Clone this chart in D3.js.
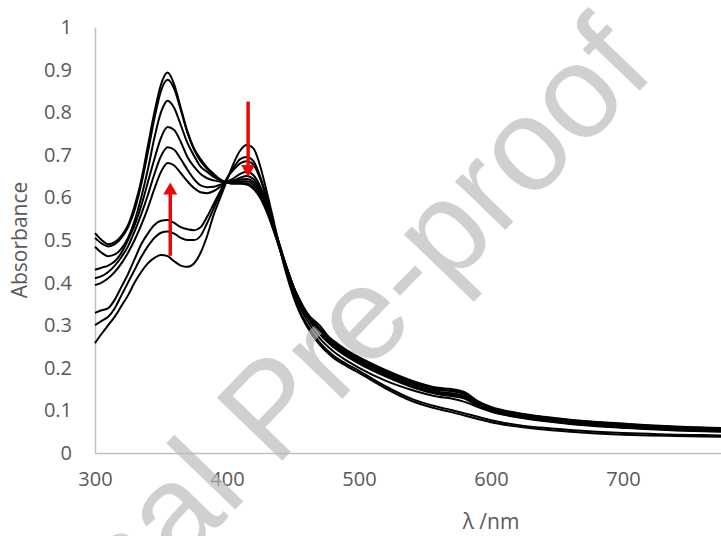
<!DOCTYPE html>
<html><head><meta charset="utf-8">
<script src="https://cdn.jsdelivr.net/npm/d3@7"></script>
<style>html,body{margin:0;padding:0;background:#fff;}svg{display:block;}</style>
</head><body>
<svg id="chart" width="721" height="536"></svg>
<script>
// wavelength grid (nm)
const wavelengths = [300,305,310,315,320,325,330,335,340,345,350,355,360,365,370,375,380,385,390,395,400,405,410,415,420,425,430,435,440,445,450,455,460,470,480,490,500,520,540,560,570,580,590,600,620,640,660,680,700,720,740,760,780,800];
// absorbance spectra (initial -> final)
const spectrum1 = [0.258,0.28,0.30,0.32,0.345,0.37,0.40,0.425,0.445,0.458,0.465,0.462,0.45,0.44,0.437,0.445,0.47,0.51,0.56,0.60,0.64,0.68,0.71,0.723,0.715,0.675,0.615,0.55,0.48,0.42,0.37,0.33,0.30,0.255,0.225,0.205,0.188,0.152,0.122,0.103,0.096,0.088,0.08,0.072,0.062,0.055,0.05,0.046,0.043,0.041,0.04,0.039,0.038,0.037];
const spectrum2 = [0.30,0.31,0.32,0.34,0.37,0.40,0.43,0.46,0.485,0.505,0.517,0.52,0.515,0.505,0.50,0.50,0.51,0.54,0.575,0.61,0.645,0.67,0.69,0.695,0.685,0.65,0.60,0.54,0.48,0.425,0.375,0.335,0.305,0.26,0.23,0.21,0.193,0.157,0.127,0.108,0.101,0.093,0.085,0.077,0.066,0.059,0.054,0.05,0.047,0.045,0.043,0.042,0.041,0.04];
const spectrum3 = [0.329,0.335,0.34,0.36,0.39,0.42,0.455,0.49,0.515,0.535,0.545,0.547,0.54,0.53,0.525,0.523,0.53,0.555,0.585,0.615,0.645,0.665,0.68,0.685,0.677,0.645,0.597,0.54,0.483,0.43,0.382,0.345,0.315,0.27,0.24,0.218,0.20,0.17,0.148,0.132,0.128,0.12,0.108,0.098,0.085,0.076,0.069,0.064,0.06,0.057,0.054,0.052,0.05,0.049];
const spectrum4 = [0.394,0.40,0.41,0.425,0.445,0.47,0.50,0.535,0.575,0.62,0.66,0.681,0.675,0.657,0.638,0.622,0.612,0.61,0.615,0.625,0.636,0.645,0.655,0.66,0.652,0.627,0.588,0.54,0.488,0.438,0.393,0.354,0.324,0.28,0.25,0.228,0.21,0.18,0.155,0.138,0.134,0.128,0.11,0.097,0.084,0.075,0.068,0.063,0.059,0.056,0.053,0.051,0.05,0.049];
const spectrum5 = [0.41,0.415,0.425,0.44,0.46,0.485,0.52,0.56,0.605,0.655,0.697,0.718,0.712,0.69,0.665,0.643,0.628,0.624,0.625,0.63,0.636,0.64,0.646,0.65,0.643,0.62,0.583,0.536,0.486,0.437,0.393,0.355,0.326,0.283,0.253,0.231,0.213,0.183,0.158,0.141,0.137,0.131,0.113,0.10,0.086,0.077,0.07,0.065,0.061,0.058,0.055,0.053,0.051,0.05];
const spectrum6 = [0.43,0.435,0.44,0.45,0.47,0.50,0.535,0.58,0.635,0.69,0.74,0.765,0.758,0.73,0.695,0.672,0.655,0.645,0.64,0.637,0.636,0.638,0.642,0.643,0.636,0.614,0.578,0.533,0.484,0.436,0.393,0.356,0.328,0.286,0.256,0.234,0.216,0.186,0.161,0.144,0.14,0.134,0.115,0.102,0.088,0.079,0.072,0.067,0.063,0.06,0.057,0.055,0.053,0.052];
const spectrum7 = [0.484,0.47,0.462,0.466,0.48,0.505,0.545,0.60,0.665,0.74,0.80,0.827,0.81,0.77,0.728,0.698,0.672,0.66,0.648,0.64,0.636,0.636,0.638,0.638,0.63,0.608,0.573,0.53,0.482,0.435,0.393,0.358,0.33,0.29,0.26,0.238,0.22,0.19,0.165,0.148,0.145,0.138,0.118,0.105,0.091,0.082,0.075,0.07,0.066,0.062,0.059,0.057,0.055,0.054];
const spectrum8 = [0.505,0.492,0.485,0.49,0.505,0.53,0.57,0.63,0.705,0.785,0.85,0.876,0.855,0.805,0.752,0.712,0.685,0.667,0.652,0.641,0.635,0.633,0.634,0.633,0.624,0.604,0.57,0.527,0.48,0.434,0.392,0.36,0.332,0.293,0.265,0.243,0.225,0.195,0.17,0.153,0.15,0.143,0.122,0.108,0.094,0.085,0.078,0.073,0.069,0.065,0.062,0.06,0.058,0.057];
const spectrum9 = [0.516,0.50,0.49,0.495,0.51,0.535,0.58,0.64,0.72,0.80,0.865,0.893,0.865,0.81,0.755,0.715,0.69,0.67,0.655,0.642,0.635,0.632,0.632,0.63,0.62,0.60,0.567,0.525,0.478,0.432,0.39,0.358,0.33,0.30,0.262,0.24,0.222,0.192,0.168,0.15,0.146,0.14,0.12,0.107,0.093,0.084,0.077,0.072,0.068,0.064,0.061,0.059,0.057,0.056];
const spectra = [spectrum1,spectrum2,spectrum3,spectrum4,spectrum5,spectrum6,spectrum7,spectrum8,spectrum9];
// axis ticks
const xTicks = [300,400,500,600,700];
const yTicks = [0,0.1,0.2,0.3,0.4,0.5,0.6,0.7,0.8,0.9,1];
// red arrows: [wavelength, from absorbance, to absorbance]
const arrowUp = [357, 0.463, 0.635];
const arrowDown = [416, 0.825, 0.648];

const svg = d3.select("#chart");
const x = d3.scaleLinear().domain([300,800]).range([95,755]);
const y = d3.scaleLinear().domain([0,1]).range([453,27]);
const tickFont = "'Open Sans', sans-serif";

// axes
const yAxis = svg.append("g").attr("transform","translate(95,0)")
  .call(d3.axisLeft(y).tickValues(yTicks).tickSize(0).tickPadding(23).tickFormat(d => d===0||d===1 ? String(d) : d3.format(".1f")(d)));
const xAxis = svg.append("g").attr("transform","translate(0,453)")
  .call(d3.axisBottom(x).tickValues(xTicks).tickSize(0).tickPadding(19).tickFormat(d3.format("d")));
[yAxis,xAxis].forEach(g=>{
  g.selectAll("text").attr("fill","#595959").style("font-family",tickFont).style("font-size","20px");
  g.select(".domain").attr("stroke","#bfbfbf").attr("stroke-width",1.5);
});
xAxis.select(".domain").attr("d","M95,0.5H721");

// titles
svg.append("text").attr("x",491).attr("y",529).attr("text-anchor","middle")
  .attr("fill","#595959").style("font-family",tickFont).style("font-size","21px").text("λ /nm");
svg.append("text").attr("transform","translate(27,240) rotate(-90)").attr("text-anchor","middle")
  .attr("fill","#595959").style("font-family",tickFont).style("font-size","21px").text("Absorbance");

// spectra
const line = d3.line().x((d,i)=>x(wavelengths[i])).y(d=>y(d)).curve(d3.curveMonotoneX);
svg.append("g").selectAll("path").data(spectra).join("path")
  .attr("d", d=>line(d)).attr("fill","none").attr("stroke","#000").attr("stroke-width",2);

// arrows
function arrow(a){
  const [w,a0,a1] = a;
  const x0 = x(w), y0 = y(a0), y1 = y(a1);
  const dir = y1 < y0 ? 1 : -1;
  svg.append("line").attr("x1",x0).attr("x2",x0).attr("y1",y0).attr("y2",y1 + dir*8)
    .attr("stroke","#e8090a").attr("stroke-width",3.5);
  svg.append("path").attr("d",`M${x0-7},${y1+dir*12}L${x0},${y1}L${x0+7},${y1+dir*12}Z`)
    .attr("fill","#e8090a");
}
arrow(arrowUp); arrow(arrowDown);

// watermark
svg.append("text").attr("transform","translate(270,408) rotate(-46)")
  .attr("text-anchor","middle").attr("dominant-baseline","central")
  .attr("fill","#b8b8b8").attr("fill-opacity",0.66)
  .style("font-family","'Liberation Sans', Arial, sans-serif").style("font-size","132px")
  .text("Journal Pre-proof");
</script>
</body></html>
